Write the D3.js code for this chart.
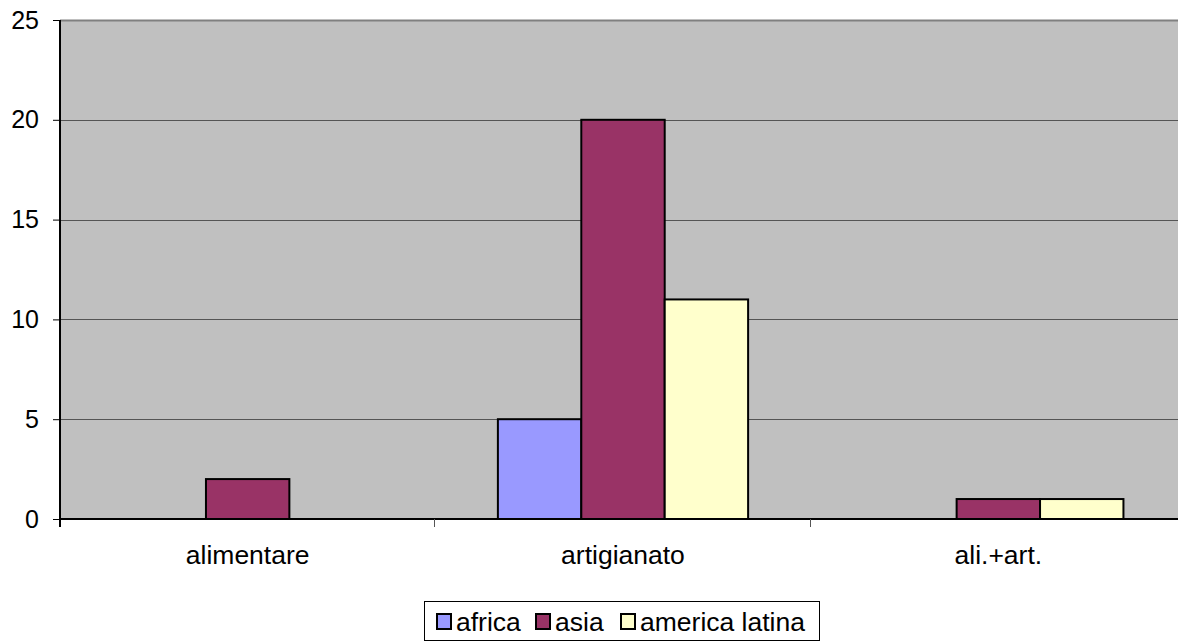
<!DOCTYPE html>
<meta charset="utf-8">
<style>
    body { margin: 0; background: #fff; }
    text { font-family: "Liberation Sans", Arial, sans-serif; }
</style>
<div class="chart"></div>
<script src="https://cdn.jsdelivr.net/npm/d3@7"></script>
<script>
var categories = ["alimentare", "artigianato", "ali.+art."];
var series = ["africa", "asia", "america latina"];
var africa = [0, 5, 0];
var asia = [2, 20, 1];
var americaLatina = [0, 11, 1];
var yTicks = [0, 5, 10, 15, 20, 25];
var colors = ["#9999ff", "#993366", "#ffffcc"];

var values = [africa, asia, americaLatina];
var width = 1178, height = 642;
var plot = {left: 60, right: 1186, top: 20, bottom: 519};
var fontSize = 26.5;

var svg = d3.select(".chart").append("svg")
    .attr("width", width)
    .attr("height", height);

var x = d3.scaleBand().domain(categories).range([plot.left, plot.right]);
var barW = x.bandwidth() / 4.5;
var y = d3.scaleLinear().domain([0, 25]).range([plot.bottom, plot.top]);

// plot background
svg.append("rect")
    .attr("x", plot.left).attr("y", plot.top)
    .attr("width", plot.right - plot.left).attr("height", plot.bottom - plot.top)
    .attr("fill", "#c0c0c0");

// gridlines
svg.selectAll(".grid").data(yTicks.filter(function(d){ return d > 0 && d < 25; }))
    .enter().append("line")
    .attr("x1", plot.left).attr("x2", plot.right)
    .attr("y1", function(d){ return Math.round(y(d)) + 0.5; })
    .attr("y2", function(d){ return Math.round(y(d)) + 0.5; })
    .attr("stroke", "#555").attr("stroke-width", 1);

// top border
svg.append("line")
    .attr("x1", plot.left).attr("x2", plot.right)
    .attr("y1", plot.top + 0.5).attr("y2", plot.top + 0.5)
    .attr("stroke", "#808080").attr("stroke-width", 2);

// bars
series.forEach(function(s, si) {
    svg.selectAll(".bar" + si).data(categories)
        .enter().append("rect")
        .attr("x", function(c){ return x(c) + barW * 0.75 + si * barW; })
        .attr("y", function(c, i){ return y(values[si][i]); })
        .attr("width", barW)
        .attr("height", function(c, i){ return y(0) - y(values[si][i]); })
        .attr("fill", colors[si])
        .attr("stroke", "#000")
        .attr("stroke-width", 2)
        .style("display", function(c, i){ return values[si][i] > 0 ? null : "none"; });
});

// y axis
var yAxis = d3.axisLeft(y).tickValues(yTicks).tickSize(7).tickPadding(14);
var yg = svg.append("g").attr("transform", "translate(" + plot.left + ",0)").call(yAxis);
yg.select(".domain").attr("stroke", "#000").attr("stroke-width", 2)
    .attr("d", "M0," + plot.top + "V" + (plot.bottom + 8));
yg.selectAll(".tick line").attr("stroke", "#000");
yg.selectAll("text").attr("font-size", 25).attr("fill", "#000")
    .attr("font-family", "'Liberation Sans', Arial, sans-serif");

// x axis
svg.append("line")
    .attr("x1", plot.left).attr("x2", plot.right)
    .attr("y1", plot.bottom).attr("y2", plot.bottom)
    .attr("stroke", "#000").attr("stroke-width", 2);
svg.selectAll(".xtick").data(categories.slice(1))
    .enter().append("line")
    .attr("x1", function(c){ return Math.round(x(c)) - 0.5; })
    .attr("x2", function(c){ return Math.round(x(c)) - 0.5; })
    .attr("y1", plot.bottom).attr("y2", plot.bottom + 8)
    .attr("stroke", "#555");
svg.selectAll(".xlabel").data(categories)
    .enter().append("text")
    .attr("x", function(c){ return x(c) + x.bandwidth() / 2; })
    .attr("y", 564)
    .attr("text-anchor", "middle")
    .attr("font-size", fontSize)
    .text(function(c){ return c; });

// legend
var lg = svg.append("g");
lg.append("rect")
    .attr("x", 424.5).attr("y", 601.5).attr("width", 395).attr("height", 39)
    .attr("fill", "#fff").attr("stroke", "#000").attr("stroke-width", 1);
var legendX = [437, 536, 621];
series.forEach(function(s, si) {
    lg.append("rect")
        .attr("x", legendX[si]).attr("y", 614)
        .attr("width", 14).attr("height", 15)
        .attr("fill", colors[si]).attr("stroke", "#000").attr("stroke-width", 2);
    lg.append("text")
        .attr("x", legendX[si] + 19).attr("y", 631)
        .attr("font-size", fontSize)
        .text(s);
});
</script>
